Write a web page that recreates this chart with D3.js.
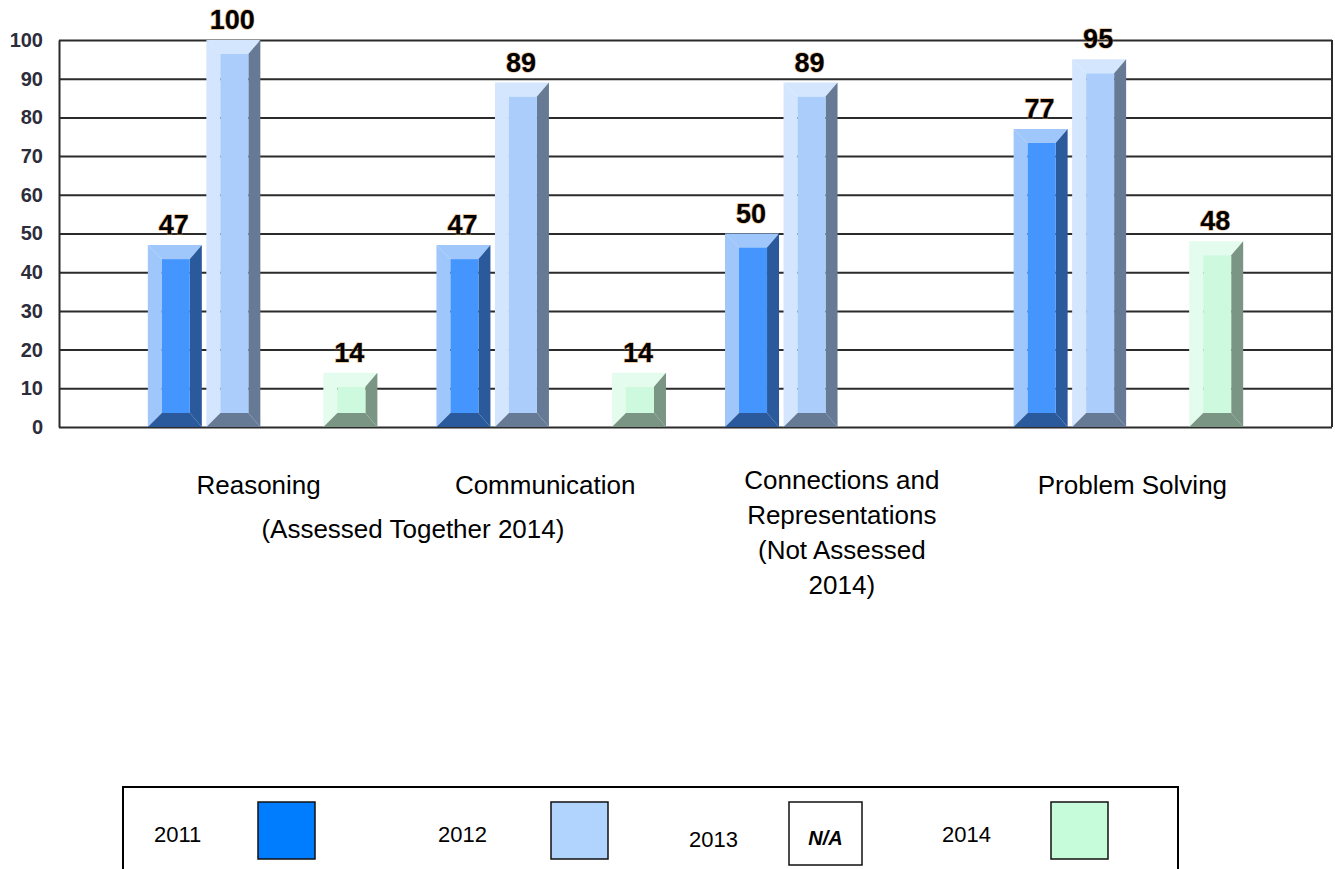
<!DOCTYPE html>
<html lang="en">
<head>
<meta charset="utf-8">
<title>Math processes by year</title>
<script src="https://d3js.org/d3.v7.min.js"></script>
<style>
  html, body { margin: 0; padding: 0; background: #fff; }
  #chart { width: 1335px; height: 869px; overflow: hidden; }
  text { font-family: Arial, "Liberation Sans", sans-serif; }
</style>
</head>
<body>
<div id="chart"></div>
<script>
// data (null = not assessed / N/A)
const categories = ["Reasoning", "Communication", "Connections and Representations", "Problem Solving"];
const categoryLines = [
  ["Reasoning"],
  ["Communication"],
  ["Connections and", "Representations", "(Not Assessed", "2014)"],
  ["Problem Solving"]
];
const sharedNote = "(Assessed Together 2014)";
const years = ["2011", "2012", "2013", "2014"];
const values2011 = [47, 47, 50, 77];
const values2012 = [100, 89, 89, 95];
const values2013 = [null, null, null, null];
const values2014 = [14, 14, null, 48];
const yTicks = [0, 10, 20, 30, 40, 50, 60, 70, 80, 90, 100];

const series = [values2011, values2012, values2013, values2014];

// bevel colours per year: light (left/top), face, dark (right/bottom)
const barColors = {
  "2011": { light: "#a0c7fb", face: "#4595fe", dark: "#2a5a9b" },
  "2012": { light: "#d4e5fe", face: "#abcdfc", dark: "#667a96" },
  "2013": { light: "#ffffff", face: "#ffffff", dark: "#999999" },
  "2014": { light: "#e4fced", face: "#cdf9de", dark: "#7b9584" }
};
const legendFill = { "2011": "#007dff", "2012": "#b0d4fe", "2013": "#ffffff", "2014": "#c6fcda" };

const W = 1335, H = 869;
const plotLeft = 59, plotRight = 1332, plotTop = 40, plotBottom = 427;

const svg = d3.select("#chart")
  .append("svg")
  .attr("width", W)
  .attr("height", H);

const x0 = d3.scaleBand()
  .domain(categories)
  .range([plotLeft, plotRight])
  .paddingInner(0.189)
  .paddingOuter(0.30);

const x1 = d3.scaleBand()
  .domain(years)
  .range([0, x0.bandwidth()])
  .paddingInner(0.077)
  .paddingOuter(0.0385);

const y = d3.scaleLinear()
  .domain([0, 100])
  .range([plotBottom, plotTop]);

// gridlines + left axis
const yAxis = d3.axisLeft(y)
  .tickValues(yTicks)
  .tickSizeInner(-(plotRight - plotLeft))
  .tickSizeOuter(0)
  .tickPadding(16);

const gAxis = svg.append("g")
  .attr("transform", `translate(${plotLeft},0)`)
  .call(yAxis);
gAxis.select(".domain").attr("stroke", "#2b2b2b").attr("stroke-width", 2);
gAxis.selectAll(".tick line").attr("stroke", "#2b2b2b").attr("stroke-width", 2);
gAxis.selectAll(".tick text")
  .attr("fill", "#2c2c3a")
  .attr("font-size", 20)
  .attr("font-weight", "bold")
  .attr("font-family", "Arial, 'Liberation Sans', sans-serif");

// right border
svg.append("line")
  .attr("x1", plotRight).attr("x2", plotRight)
  .attr("y1", plotTop).attr("y2", plotBottom)
  .attr("stroke", "#2b2b2b").attr("stroke-width", 2);

// bars with bevel look
const bars = [];
categories.forEach((c, i) => {
  years.forEach((yr, j) => {
    const v = series[j][i];
    if (v == null) return;
    bars.push({ cat: c, year: yr, value: v });
  });
});

const bL = 14, bT = 14, bR = 12, bB = 14;

const gBars = svg.append("g")
  .selectAll("g")
  .data(bars)
  .join("g");

gBars.each(function(d) {
  const g = d3.select(this);
  const xa = x0(d.cat) + x1(d.year);
  const xb = xa + x1.bandwidth();
  const ya = y(d.value);
  const yb = y(0);
  const t = Math.min(bT, (yb - ya) / 2), b = Math.min(bB, (yb - ya) / 2);
  const xi0 = xa + bL, xi1 = xb - bR, yi0 = ya + t, yi1 = yb - b;
  const col = barColors[d.year];
  const poly = pts => pts.map(p => p.join(",")).join(" ");

  g.append("polygon").attr("points", poly([[xa, ya], [xi0, yi0], [xi0, yi1], [xa, yb]])).attr("fill", col.light);
  g.append("polygon").attr("points", poly([[xa, ya], [xb, ya], [xi1, yi0], [xi0, yi0]])).attr("fill", col.light);
  g.append("polygon").attr("points", poly([[xb, ya], [xb, yb], [xi1, yi1], [xi1, yi0]])).attr("fill", col.dark);
  g.append("polygon").attr("points", poly([[xa, yb], [xb, yb], [xi1, yi1], [xi0, yi1]])).attr("fill", col.dark);
  g.append("rect")
    .attr("x", xi0).attr("y", yi0)
    .attr("width", Math.max(0, xi1 - xi0))
    .attr("height", Math.max(0, yi1 - yi0))
    .attr("fill", col.face);

  g.append("text")
    .attr("x", (xa + xb) / 2 - 1)
    .attr("y", ya - 11)
    .attr("text-anchor", "middle")
    .attr("font-size", 27)
    .attr("font-weight", "bold")
    .attr("fill", "#000")
    .attr("stroke", "#d98c3e")
    .attr("stroke-opacity", 0.55)
    .attr("stroke-width", 1.4)
    .attr("paint-order", "stroke")
    .text(d.value);
});

// category labels (the text sits in table cells, slightly off the bar groups)
const labelNudge = [-4, -6, 2, 4];
const gCat = svg.append("g")
  .attr("font-size", 26)
  .attr("fill", "#000")
  .attr("text-anchor", "middle");

categories.forEach((c, i) => {
  const lines = categoryLines[i];
  const cx = x0(c) + x0.bandwidth() / 2 + labelNudge[i];
  const y0 = lines.length > 1 ? 489 : 494;
  const t = gCat.append("text").attr("x", cx).attr("y", y0);
  lines.forEach((ln, k) => {
    t.append("tspan").attr("x", cx).attr("dy", k === 0 ? 0 : 35).text(ln);
  });
});

gCat.append("text")
  .attr("x", (x0(categories[0]) + x0(categories[1]) + x0.bandwidth()) / 2 + 6)
  .attr("y", 538)
  .text(sharedNote);

// legend box (bottom cut off by the page)
const legend = svg.append("g");
legend.append("rect")
  .attr("x", 123).attr("y", 787)
  .attr("width", 1178 - 123).attr("height", 200)
  .attr("fill", "none")
  .attr("stroke", "#000")
  .attr("stroke-width", 2);

const legendTextX = [154, 438, 689, 942];
const legendSwatchX = [258, 551, 789, 1051];

years.forEach((yr, i) => {
  const na = series[i].every(v => v == null);
  legend.append("text")
    .attr("x", legendTextX[i])
    .attr("y", na ? 847 : 842)
    .attr("font-size", 22)
    .attr("fill", "#000")
    .text(yr);
  const w = na ? 73 : 57, h = na ? 63 : 57;
  legend.append("rect")
    .attr("x", legendSwatchX[i]).attr("y", 802)
    .attr("width", w).attr("height", h)
    .attr("fill", legendFill[yr])
    .attr("stroke", "#111")
    .attr("stroke-width", 1.5);
  if (na) {
    legend.append("text")
      .attr("x", legendSwatchX[i] + w / 2)
      .attr("y", 845)
      .attr("text-anchor", "middle")
      .attr("font-size", 20)
      .attr("font-weight", "bold")
      .attr("font-style", "italic")
      .attr("fill", "#000")
      .text("N/A");
  }
});
</script>
</body>
</html>
